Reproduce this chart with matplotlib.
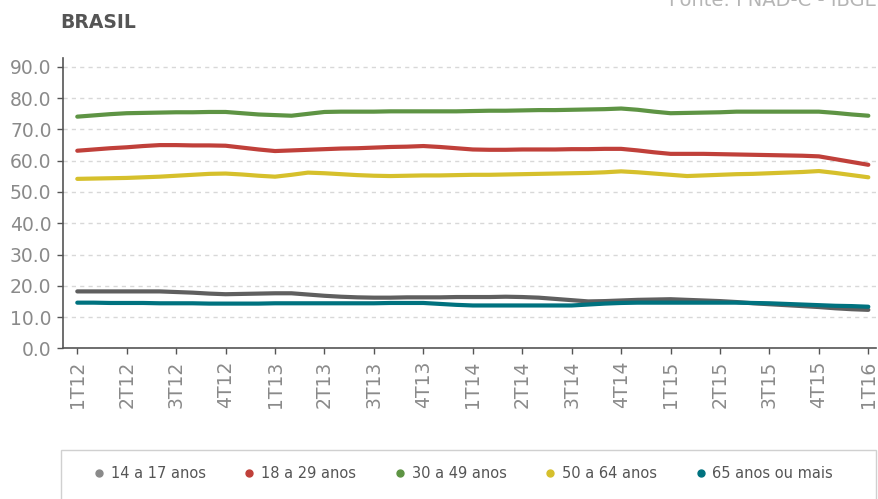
import matplotlib
matplotlib.use('Agg')
import matplotlib.pyplot as plt
from matplotlib.lines import Line2D
from matplotlib.patches import Rectangle

# trimestres moveis (mensal), rotulo a cada 3 pontos
trimestres = ['1T12', '2T12', '3T12', '4T12', '1T13', '2T13', '3T13', '4T13',
              '1T14', '2T14', '3T14', '4T14', '1T15', '2T15', '3T15', '4T15', '1T16']

a14_17 = [18.2, 18.2, 18.2, 18.2, 18.2, 18.2, 18.0, 17.8, 17.5, 17.3,
          17.4, 17.5, 17.6, 17.6, 17.2, 16.8, 16.5, 16.3, 16.2, 16.2,
          16.3, 16.3, 16.3, 16.4, 16.4, 16.4, 16.5, 16.4, 16.2, 15.8,
          15.4, 15.0, 15.1, 15.3, 15.5, 15.6, 15.7, 15.5, 15.3, 15.1,
          14.8, 14.4, 14.1, 13.8, 13.5, 13.2, 12.8, 12.5, 12.3]
a18_29 = [63.2, 63.6, 64.0, 64.3, 64.7, 65.0, 65.0, 64.9, 64.9, 64.8,
          64.2, 63.6, 63.1, 63.3, 63.5, 63.7, 63.9, 64.0, 64.2, 64.4,
          64.5, 64.7, 64.4, 64.0, 63.6, 63.5, 63.5, 63.6, 63.6, 63.6,
          63.7, 63.7, 63.8, 63.8, 63.3, 62.7, 62.2, 62.2, 62.2, 62.1,
          62.0, 61.9, 61.8, 61.7, 61.6, 61.4, 60.5, 59.6, 58.7]
a30_49 = [74.1, 74.5, 74.9, 75.2, 75.3, 75.4, 75.5, 75.5, 75.6, 75.6,
          75.2, 74.8, 74.6, 74.4, 75.0, 75.6, 75.7, 75.7, 75.7, 75.8,
          75.8, 75.8, 75.8, 75.8, 75.9, 76.0, 76.0, 76.1, 76.2, 76.2,
          76.3, 76.4, 76.5, 76.7, 76.3, 75.7, 75.2, 75.3, 75.4, 75.5,
          75.7, 75.7, 75.7, 75.7, 75.7, 75.7, 75.3, 74.8, 74.4]
a50_64 = [54.2, 54.3, 54.4, 54.5, 54.7, 54.9, 55.2, 55.5, 55.8, 55.9,
          55.6, 55.2, 54.9, 55.5, 56.2, 56.0, 55.7, 55.4, 55.2, 55.1,
          55.2, 55.3, 55.3, 55.4, 55.5, 55.5, 55.6, 55.7, 55.8, 55.9,
          56.0, 56.1, 56.3, 56.6, 56.3, 55.9, 55.5, 55.1, 55.3, 55.5,
          55.7, 55.8, 56.0, 56.2, 56.4, 56.7, 56.1, 55.4, 54.7]
a65_mais = [14.6, 14.6, 14.5, 14.5, 14.5, 14.4, 14.4, 14.4, 14.3, 14.3,
            14.3, 14.3, 14.4, 14.4, 14.4, 14.4, 14.4, 14.4, 14.4, 14.5,
            14.5, 14.5, 14.2, 13.9, 13.7, 13.7, 13.7, 13.7, 13.7, 13.7,
            13.7, 14.0, 14.3, 14.5, 14.6, 14.6, 14.6, 14.6, 14.6, 14.6,
            14.6, 14.5, 14.4, 14.2, 14.0, 13.8, 13.6, 13.5, 13.3]

series = [
    ('14 a 17 anos', a14_17, '#5f5f5f', '#8a8a8a'),
    ('18 a 29 anos', a18_29, '#c0403a', '#c0403a'),
    ('30 a 49 anos', a30_49, '#5e9444', '#5e9444'),
    ('50 a 64 anos', a50_64, '#d6c02c', '#d6c02c'),
    ('65 anos ou mais', a65_mais, '#00727f', '#00727f'),
]

plt.rcParams['font.family'] = ['DejaVu Sans']

fig = plt.figure(figsize=(8.79, 4.99), dpi=100)
ax = fig.add_axes([0.0713, 0.302, 0.925, 0.582])

x = list(range(len(a14_17)))
for nome, vals, cor, _ in series:
    ax.plot(x, vals, color=cor, lw=3, solid_capstyle='round', solid_joinstyle='round', zorder=3)

ax.set_xlim(-0.886, 48.45)
ax.set_ylim(0, 92.9)
ax.set_yticks(range(0, 91, 10))
ax.set_yticklabels([f'{v:.1f}' for v in range(0, 91, 10)])
ax.set_xticks(range(0, len(x), 3))
ax.set_xticklabels(trimestres, rotation=90)

ax.yaxis.grid(True, color='#d8d8d8', linestyle=(0, (3, 3)), lw=1)
ax.set_axisbelow(True)
for s in ['top', 'right']:
    ax.spines[s].set_visible(False)
for s in ['left', 'bottom']:
    ax.spines[s].set_color('#555555')
    ax.spines[s].set_linewidth(1.2)
ax.tick_params(axis='both', colors='#555555', length=4, width=1, labelcolor='#8a8a8a', labelsize=13.5)
ax.tick_params(axis='y', pad=4)
ax.tick_params(axis='x', pad=5)

fig.text(60 / 879, 1 - 28 / 499, 'BRASIL', fontsize=13.5, fontweight='bold', color='#555555',
         ha='left', va='baseline')
fig.text(877 / 879, 1 - 6 / 499, 'Fonte: PNAD-C - IBGE', fontsize=14, color='#b5b5b5',
         ha='right', va='baseline')

# caixa da legenda
fig.patches.append(Rectangle((61 / 879, -0.1), 815 / 879, 0.1 + 49 / 499, transform=fig.transFigure,
                             fill=False, edgecolor='#d0d0d0', lw=1))
handles = [Line2D([], [], ls='none', marker='o', markersize=5, color=c2) for _, _, _, c2 in series]
fig.legend(handles, [s[0] for s in series], loc='center', bbox_to_anchor=(0.526, 1 - 474 / 499),
           ncol=5, frameon=False, fontsize=10.5, labelcolor='#555555', handletextpad=0.3,
           columnspacing=2.5, handlelength=1.0)

fig.savefig('out.png', dpi=100)
